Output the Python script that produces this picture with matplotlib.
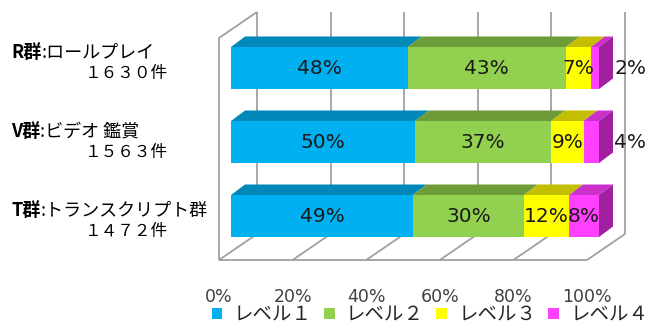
import matplotlib
matplotlib.use("Agg")
import matplotlib.pyplot as plt
from matplotlib.patches import Rectangle, Polygon, Patch

# ---- data ----
groups = ["T群:トランスクリプト群", "V群:ビデオ 鑑賞", "R群:ロールプレイ"]
counts = ["１４７２件", "１５６３件", "１６３０件"]
levels = ["レベル１", "レベル２", "レベル３", "レベル４"]
level1 = [49.4, 50.0, 48.0]
level2 = [30.2, 37.0, 43.0]
level3 = [12.3, 8.8, 6.8]
level4 = [8.1, 4.2, 2.2]
series = [level1, level2, level3, level4]
xticks = [0, 20, 40, 60, 80, 100]

front_cols = ["#00B0F0", "#92D050", "#FFFF00", "#FF40FF"]
top_cols = ["#0088B8", "#6E9C38", "#C4BE00", "#CC30CC"]
side_col = "#A020A0"

W, H = 650, 334
fig = plt.figure(figsize=(W / 100, H / 100), dpi=100)
ax = fig.add_axes([0, 0, 1, 1])
PXP = 3.68          # pixels per percent
YPX = 74.0          # pixels per category
ax.set_xlim(-231 / PXP, (W - 231) / PXP)
ax.set_ylim((216 - H) / YPX, 216 / YPX)
ax.axis("off")

# 3D geometry (data units)
DX, DY = 38 / PXP, 26 / YPX      # full depth projection
F1 = 12 / 38                      # depth of bar front face
BDX, BDY = 14 / PXP, 10.5 / YPX   # bar depth projection
BH = 42 / YPX                     # bar height
FLOOR_Y = (216 - 260) / YPX + F1 * DY
TOP_Y = (216 - 38) / YPX + F1 * DY


def proj(x, y, d):
    return (x + (d - F1) * DX, y + (d - F1) * DY)

grid_kw = dict(color="#A0A0A0", lw=1.3, zorder=1, solid_capstyle="butt")
for p in xticks:
    x0, y0 = proj(p, FLOOR_Y, 1)
    x1, y1 = proj(p, TOP_Y, 1)
    ax.plot([x0, x1], [y0, y1], **grid_kw)
    a = proj(p, FLOOR_Y, 0)
    b = proj(p, FLOOR_Y, 1)
    ax.plot([a[0], b[0]], [a[1], b[1]], **grid_kw)
a = proj(0, FLOOR_Y, 0); b = proj(100, FLOOR_Y, 0)
ax.plot([a[0], b[0]], [a[1], b[1]], **grid_kw)
a = proj(0, FLOOR_Y, 0); b = proj(0, TOP_Y, 0); c = proj(0, TOP_Y, 1)
ax.plot([a[0], b[0], c[0]], [a[1], b[1], c[1]], **grid_kw)

for p in xticks:
    x, y = proj(p, FLOOR_Y, 0)
    ax.text(x, y - 37 / YPX, f"{p}%", ha="center", va="center",
            fontsize=12.5, color="#404040", family="DejaVu Sans")

for i in range(len(groups)):
    left = 0.0
    n = len(series)
    for k in range(n):
        v = series[k][i]
        right = left + v
        ax.add_patch(Rectangle((left, i - BH / 2), v, BH, facecolor=front_cols[k],
                               edgecolor="none", zorder=3))
        ax.add_patch(Polygon([(left, i + BH / 2), (right, i + BH / 2),
                              (right + BDX, i + BH / 2 + BDY), (left + BDX, i + BH / 2 + BDY)],
                             closed=True, facecolor=top_cols[k], edgecolor="none", zorder=3))
        if k == n - 1:
            ax.add_patch(Polygon([(right, i - BH / 2), (right, i + BH / 2),
                                  (right + BDX, i + BH / 2 + BDY), (right + BDX, i - BH / 2 + BDY)],
                                 closed=True, facecolor=side_col, edgecolor="none", zorder=3))
        lab = f"{round(v):d}%"
        if v < 5:
            ax.text(right + BDX + 17 / PXP, i, lab, ha="center", va="center",
                    fontsize=14.5, color="#1A1A1A", zorder=5)
        else:
            ax.text(left + v / 2, i, lab, ha="center", va="center",
                    fontsize=14.5, color="#1A1A1A", zorder=5)
        left = right

cjk = ["Noto Sans CJK JP", "DejaVu Sans"]
for i in range(len(groups)):
    yc = 1 + (i - 1) * 1.068
    prefix, name = groups[i].split(":", 1)
    t1 = ax.text(11 / PXP - 231 / PXP, yc + 10.5 / YPX, prefix, ha="left", va="center",
                 fontsize=13, family=cjk, color="black", fontweight="bold")
    ax.annotate(":" + name, xy=(1, 0.5), xycoords=t1, ha="left", va="center",
                fontsize=13, family=cjk, color="black")
    ax.text(85 / PXP - 231 / PXP, yc - 10.5 / YPX, counts[i], ha="left", va="center",
            fontsize=12, family=cjk, color="black")

handles = [Patch(facecolor=c, edgecolor="none") for c in front_cols]
leg = fig.legend(handles, levels, loc="center", bbox_to_anchor=(430 / W, 1 - 315 / H),
                 ncol=4, frameon=False, prop={"family": cjk, "size": 14},
                 handlelength=0.55, handleheight=0.55, handletextpad=0.6,
                 columnspacing=0.6, borderpad=0, borderaxespad=0)
for t in leg.get_texts():
    t.set_color("#262626")

fig.savefig("out.png", dpi=100)
